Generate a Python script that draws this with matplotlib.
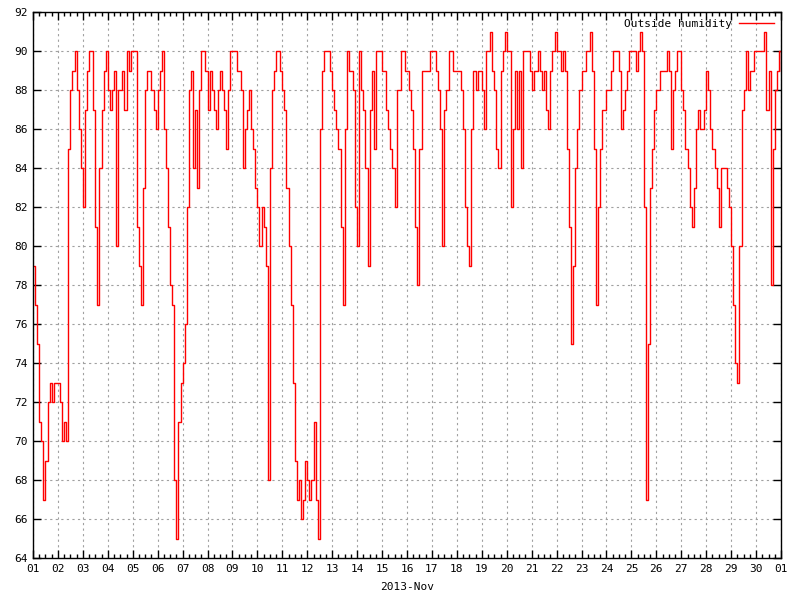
import numpy as np
import matplotlib
matplotlib.use("Agg")
import matplotlib.pyplot as plt
from matplotlib.ticker import MultipleLocator

# outside humidity (%), one reading every 2 hours, Nov 1 00:00 -> Dec 1 00:00
humidity = [
    79, 77, 75, 71, 70, 67, 69, 72, 73, 72, 73, 73,   # 01
    73, 72, 70, 71, 70, 85, 88, 89, 90, 88, 86, 84,   # 02
    82, 87, 89, 90, 90, 87, 81, 77, 84, 87, 89, 90,   # 03
    88, 87, 88, 89, 80, 88, 88, 89, 87, 90, 89, 90,   # 04
    90, 90, 81, 79, 77, 83, 88, 89, 89, 88, 87, 86,   # 05
    88, 89, 90, 86, 84, 81, 78, 77, 68, 65, 71, 73,   # 06
    74, 76, 82, 88, 89, 84, 87, 83, 88, 90, 90, 89,   # 07
    87, 89, 88, 87, 86, 88, 89, 88, 87, 85, 88, 90,   # 08
    90, 90, 89, 89, 88, 84, 86, 87, 88, 86, 85, 83,   # 09
    82, 80, 82, 81, 79, 68, 84, 88, 89, 90, 90, 89,   # 10
    88, 87, 83, 80, 77, 73, 69, 67, 68, 66, 67, 69,   # 11
    68, 67, 68, 71, 67, 65, 86, 89, 90, 90, 90, 89,   # 12
    88, 87, 86, 85, 81, 77, 86, 90, 89, 89, 88, 82,   # 13
    80, 90, 88, 87, 84, 79, 87, 89, 85, 90, 90, 90,   # 14
    89, 89, 87, 86, 85, 84, 82, 88, 88, 90, 90, 89,   # 15
    89, 88, 87, 85, 81, 78, 85, 89, 89, 89, 89, 90,   # 16
    90, 90, 89, 88, 86, 80, 87, 88, 90, 90, 89, 89,   # 17
    89, 89, 88, 86, 82, 80, 79, 86, 89, 88, 89, 89,   # 18
    88, 86, 90, 90, 91, 89, 88, 85, 84, 89, 90, 91,   # 19
    90, 90, 82, 86, 89, 86, 89, 84, 90, 90, 90, 89,   # 20
    88, 89, 89, 90, 89, 88, 89, 87, 86, 89, 90, 91,   # 21
    90, 90, 89, 90, 89, 85, 81, 75, 79, 84, 86, 88,   # 22
    89, 89, 90, 90, 91, 89, 85, 77, 82, 85, 87, 87,   # 23
    88, 88, 89, 90, 90, 90, 89, 86, 87, 88, 89, 90,   # 24
    90, 90, 89, 90, 91, 90, 82, 67, 75, 83, 85, 87,   # 25
    88, 88, 89, 89, 89, 90, 89, 85, 88, 89, 90, 90,   # 26
    88, 87, 85, 84, 82, 81, 83, 86, 87, 86, 86, 87,   # 27
    89, 88, 86, 85, 84, 83, 81, 84, 84, 84, 83, 82,   # 28
    80, 77, 74, 73, 80, 87, 88, 90, 88, 89, 89, 90,   # 29
    90, 90, 90, 90, 91, 87, 89, 78, 85, 88, 89, 90,   # 30
    89,
]
day_labels = ["%02d" % d for d in range(1, 31)] + ["01"]
y_ticks = list(range(64, 93, 2))

font = "DejaVu Sans Mono"
t = np.arange(len(humidity)) / 12.0  # days since Nov 1

fig = plt.figure(figsize=(8, 6), dpi=100, facecolor="white")
ax = fig.add_axes([0.04125, 0.07, 0.935, 0.91])

ax.plot(t, humidity, color="#ff0000", lw=1.0, drawstyle="steps-post",
        label="Outside humidity")

ax.set_xlim(0, 30)
ax.set_ylim(64, 92)
ax.set_xticks(range(31))
ax.set_xticklabels(day_labels, fontsize=8, family=font)
ax.xaxis.set_minor_locator(MultipleLocator(0.25))
ax.set_yticks(y_ticks)
ax.set_yticklabels([str(v) for v in y_ticks], fontsize=8, family=font)

ax.tick_params(which="both", direction="in", top=True, right=True, color="black")
ax.tick_params(which="major", length=6, width=1, pad=4)
ax.tick_params(which="minor", length=3, width=1)
for s in ax.spines.values():
    s.set_linewidth(1)

ax.grid(True, which="major", color="#a0a0a0", linestyle=(0, (2, 3)), lw=0.8)
ax.set_axisbelow(True)

ax.set_xlabel("2013-Nov", fontsize=8, family=font, labelpad=6)

ax.legend(loc="upper right", frameon=False, markerfirst=False,
          prop={"family": font, "size": 8}, handlelength=3.2,
          borderaxespad=0.2, handletextpad=0.6)

fig.savefig("out.png", dpi=100)
